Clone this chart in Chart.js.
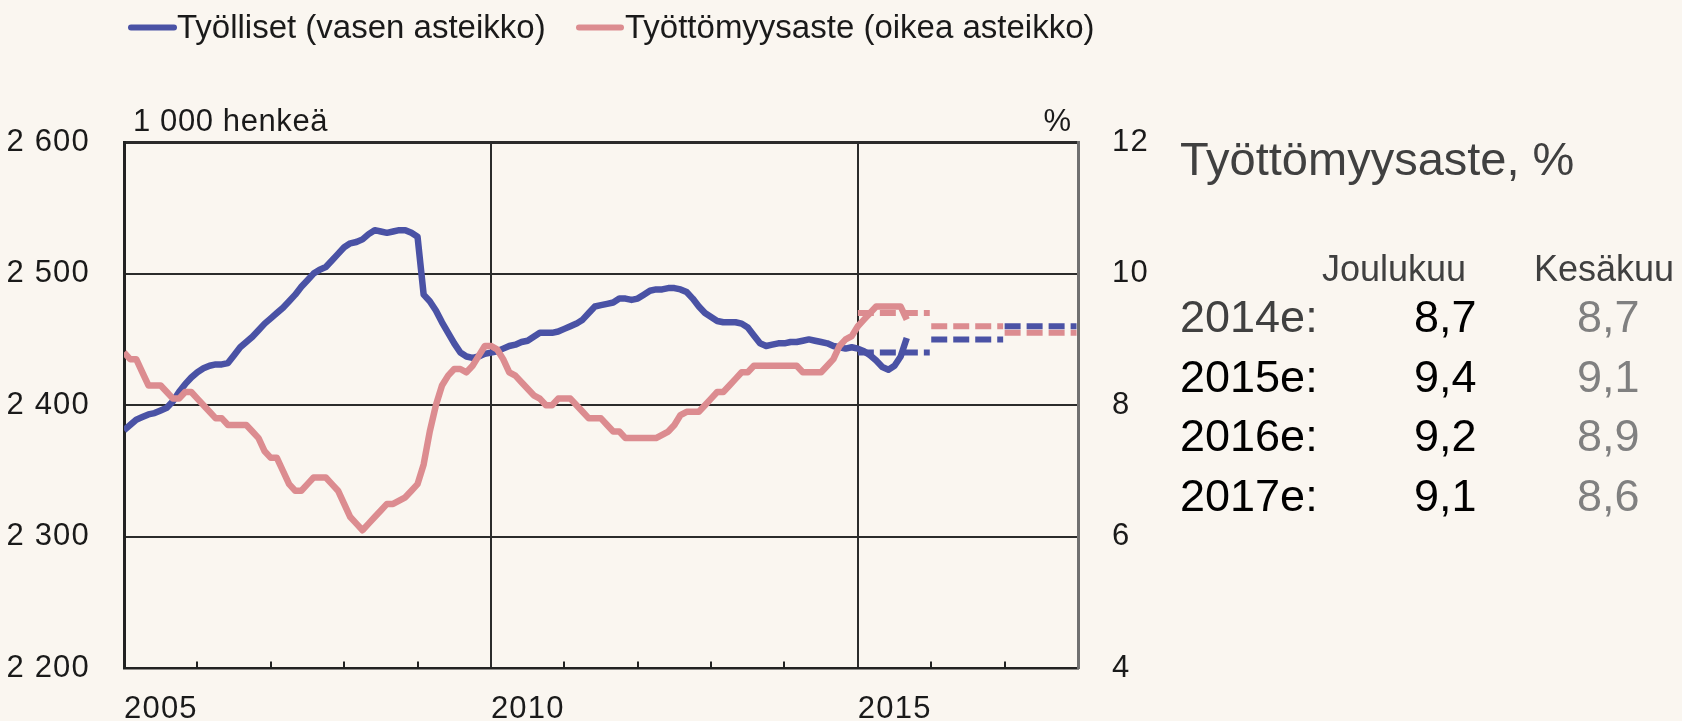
<!DOCTYPE html>
<html>
<head>
<meta charset="utf-8">
<script src="https://cdn.jsdelivr.net/npm/chart.js@4.4.1/dist/chart.umd.min.js"></script>
<style>
  html, body { margin:0; padding:0; background:#faf6f0; }
  #wrap { position:relative; width:1682px; height:721px; overflow:hidden; background:#faf6f0; }
  #c { position:absolute; left:0; top:0; }
  #ov { position:absolute; left:0; top:0; pointer-events:none; }
  text { font-family:"Liberation Sans", Arial, sans-serif; }
</style>
</head>
<body>
<div id="wrap">
  <canvas id="c" width="1682" height="721"></canvas>
  <svg id="ov" width="1682" height="721" xmlns="http://www.w3.org/2000/svg">
    <!-- legend -->
    <line x1="131" y1="27.5" x2="174" y2="27.5" stroke="#4a52a5" stroke-width="6" stroke-linecap="round"/>
    <text x="177" y="38" font-size="33" fill="#1a1a1a">Työlliset (vasen asteikko)</text>
    <line x1="579" y1="27.5" x2="621" y2="27.5" stroke="#dc8c90" stroke-width="6" stroke-linecap="round"/>
    <text x="625" y="38" font-size="33" fill="#1a1a1a">Työttömyysaste (oikea asteikko)</text>
    <!-- axis units -->
    <text x="133" y="131" font-size="31" letter-spacing="0.6" fill="#1a1a1a">1 000 henkeä</text>
    <text x="1071" y="131" font-size="31" text-anchor="end" fill="#1a1a1a">%</text>
    <!-- right panel -->
    <text x="1180" y="175" font-size="47" fill="#404040">Työttömyysaste, %</text>
    <text x="1322" y="281" font-size="36" fill="#404040">Joulukuu</text>
    <text x="1534" y="281" font-size="36" fill="#404040">Kesäkuu</text>
    <g id="rows"></g>
  </svg>
</div>
<script>
// ---- data ----
const startYear = 2005; // first month = January 2005, monthly data
const employed = [
  2381,2385,2389,2391,2393,2394,2396,2398,2403,2410,2416,2421,
  2425,2428,2430,2431,2431,2432,2438,2444,2448,2452,2457,2462,
  2466,2470,2474,2479,2484,2490,2495,2500,2503,2505,2510,2515,
  2520,2523,2524,2526,2530,2533,2532,2531,2532,2533,2533,2531,
  2528,2484,2479,2472,2463,2455,2447,2440,2437,2436,2437,2439,
  2440,2441,2443,2445,2446,2448,2449,2452,2455,2455,2455,2456,
  2458,2460,2462,2465,2470,2475,2476,2477,2478,2481,2481,2480,
  2481,2484,2487,2488,2488,2489,2489,2488,2486,2481,2475,2470,
  2467,2464,2463,2463,2463,2462,2459,2453,2447,2445,2446,2447,
  2447,2448,2448,2449,2450,2449,2448,2447,2445,2444,2443,2444,
  2443,2441,2438,2434,2429,2427,2430,2437,2451
];
const unemployment = [
  8.8,8.7,8.7,8.5,8.3,8.3,8.3,8.2,8.1,8.1,8.2,8.2,
  8.1,8.0,7.9,7.8,7.8,7.7,7.7,7.7,7.7,7.6,7.5,7.3,
  7.2,7.2,7.0,6.8,6.7,6.7,6.8,6.9,6.9,6.9,6.8,6.7,
  6.5,6.3,6.2,6.1,6.2,6.3,6.4,6.5,6.5,6.55,6.6,6.7,
  6.8,7.1,7.6,8.0,8.3,8.45,8.55,8.55,8.5,8.6,8.75,8.9,
  8.9,8.85,8.7,8.5,8.45,8.35,8.25,8.15,8.1,8.0,8.0,8.1,
  8.1,8.1,8.0,7.9,7.8,7.8,7.8,7.7,7.6,7.6,7.5,7.5,
  7.5,7.5,7.5,7.5,7.55,7.6,7.7,7.85,7.9,7.9,7.9,8.0,
  8.1,8.2,8.2,8.3,8.4,8.5,8.5,8.6,8.6,8.6,8.6,8.6,
  8.6,8.6,8.6,8.5,8.5,8.5,8.5,8.6,8.7,8.9,9.0,9.05,
  9.2,9.3,9.4,9.5,9.5,9.5,9.5,9.5,9.3
];
const forecastYears = [2015, 2016, 2017];
const employedForecast = [2440, 2450, 2460];
const unemploymentForecast = [9.4, 9.2, 9.1];
const xLabelYears = [2005, 2010, 2015];
const leftTicks = [2200, 2300, 2400, 2500, 2600];
const rightTicks = [4, 6, 8, 10, 12];
const tableYears = ["2014e:", "2015e:", "2016e:", "2017e:"];
const tableDecember = ["8,7", "9,4", "9,2", "9,1"];
const tableJune = ["8,7", "9,1", "8,9", "8,6"];

// ---- right panel table ----
const rowsG = document.getElementById('rows');
const NS = 'http://www.w3.org/2000/svg';
function addText(x, y, size, fill, str) {
  const t = document.createElementNS(NS, 'text');
  t.setAttribute('x', x); t.setAttribute('y', y);
  t.setAttribute('font-size', size); t.setAttribute('fill', fill);
  t.textContent = str; rowsG.appendChild(t);
}
tableYears.forEach((yr, i) => {
  const y = 332 + i * 59.5;
  addText(1180, y, 45, i === 0 ? '#404040' : '#000000', yr);
  addText(1414, y, 45, '#000000', tableDecember[i]);
  addText(1577, y, 45, '#808080', tableJune[i]);
});

// ---- chart ----
const BLUE = '#4a52a5', PINK = '#dc8c90';
const monthly = arr => arr.map((v, i) => ({ x: startYear + i / 12, y: v }));
const steps = (years, vals) => {
  const out = [];
  years.forEach((yr, k) => {
    out.push({ x: yr, y: vals[k] });
    out.push({ x: yr + 1 - 0.02, y: vals[k] });
    out.push({ x: yr + 1 - 0.01, y: null });
  });
  return out;
};
const fmt = v => String(v).replace(/\B(?=(\d{3})+(?!\d))/g, ' ');

const minorTicks = {
  id: 'minorTicks',
  beforeDraw(chart) { chart.ctx.letterSpacing = '1.2px'; },
  afterDatasetsDraw(chart) {
    const { ctx, chartArea, scales: { x } } = chart;
    ctx.save();
    ctx.strokeStyle = '#222';
    ctx.lineWidth = 2;
    x.ticks.forEach(t => {
      if (t.value % 5 === 0 || t.value <= x.min || t.value >= x.max) return;
      const px = Math.round(x.getPixelForValue(t.value));
      ctx.beginPath();
      ctx.moveTo(px, chartArea.bottom);
      ctx.lineTo(px, chartArea.bottom - 7);
      ctx.stroke();
    });
    ctx.restore();
  },
  afterDraw(chart) { chart.ctx.letterSpacing = '0px'; }
};

const tickFont = { family: '"Liberation Sans", Arial, sans-serif', size: 31 };

new Chart(document.getElementById('c'), {
  type: 'line',
  data: {
    datasets: [
      { label: 'Työttömyysaste (oikea asteikko)', data: monthly(unemployment), yAxisID: 'y2',
        borderColor: PINK, borderWidth: 6.5, pointRadius: 0, tension: 0, order: 0, borderJoinStyle: 'round' },
      { label: 'Työlliset (vasen asteikko)', data: monthly(employed), yAxisID: 'y',
        borderColor: BLUE, borderWidth: 6.5, pointRadius: 0, tension: 0, order: 1, borderJoinStyle: 'round' },
      { label: 'Työlliset, ennuste', data: steps(forecastYears, employedForecast), yAxisID: 'y',
        borderColor: BLUE, borderWidth: 6, borderDash: [16, 6], pointRadius: 0, spanGaps: false, order: 2 },
      { label: 'Työttömyysaste, ennuste', data: steps(forecastYears, unemploymentForecast), yAxisID: 'y2',
        borderColor: PINK, borderWidth: 6, borderDash: [16, 6], pointRadius: 0, spanGaps: false, order: 2 }
    ]
  },
  options: {
    responsive: false,
    animation: false,
    devicePixelRatio: 1,
    layout: { padding: { top: 142, left: 0, right: 0, bottom: 0 } },
    plugins: { legend: { display: false }, tooltip: { enabled: false } },
    scales: {
      x: {
        type: 'linear', min: 2005, max: 2018,
        afterBuildTicks: s => { const t = []; for (let v = 2005; v <= 2018; v++) t.push({ value: v }); s.ticks = t; },
        ticks: { autoSkip: false, maxRotation: 0, minRotation: 0, align: 'start', padding: 22,
          color: '#1a1a1a', font: tickFont,
          callback: v => xLabelYears.includes(v) ? String(v) : '' },
        grid: { drawTicks: false, lineWidth: 2,
          color: c => (c.tick && (c.tick.value === 2010 || c.tick.value === 2015)) ? '#2b2b2b' : 'rgba(0,0,0,0)' },
        border: { display: true, color: '#222', width: 2.5 },
        afterFit: s => { s.height = 51; }
      },
      y: {
        position: 'left', min: 2200, max: 2600,
        afterBuildTicks: s => { s.ticks = leftTicks.map(v => ({ value: v })); },
        ticks: { padding: 34, color: '#1a1a1a', font: tickFont, callback: v => fmt(v) },
        grid: { drawTicks: false, color: '#2b2b2b', lineWidth: c => (c.tick && c.tick.value === 2600) ? 3 : 2 },
        border: { display: true, color: '#222', width: 3 },
        afterFit: s => { s.width = 124; }
      },
      y2: {
        position: 'right', min: 4, max: 12,
        afterBuildTicks: s => { s.ticks = rightTicks.map(v => ({ value: v })); },
        ticks: { padding: 34, color: '#1a1a1a', font: tickFont, callback: v => String(v) },
        grid: { display: false, drawTicks: false },
        border: { display: true, color: '#707070', width: 3 },
        afterFit: s => { s.width = 604; }
      }
    }
  },
  plugins: [minorTicks]
});
</script>
</body>
</html>
